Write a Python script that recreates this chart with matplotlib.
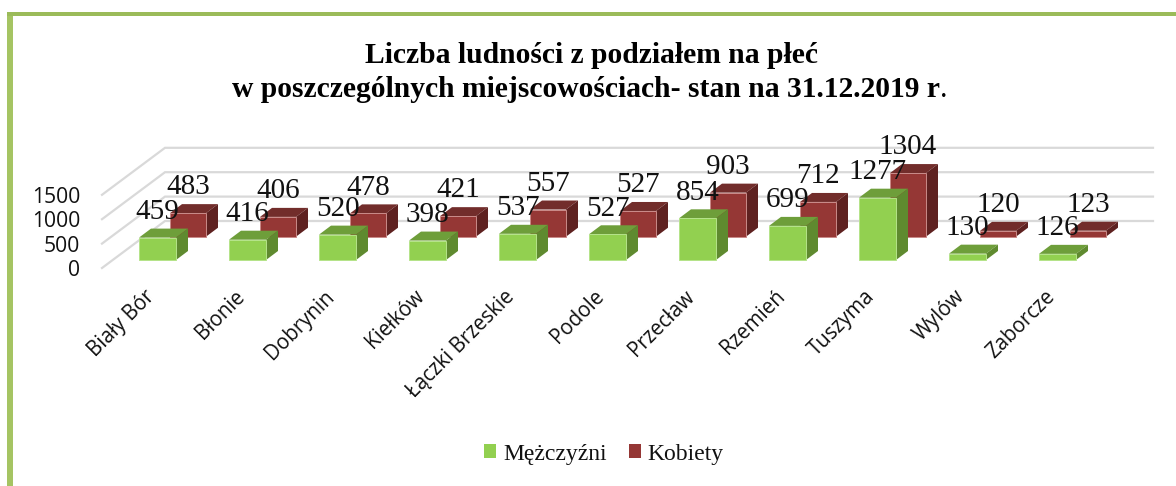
import matplotlib
matplotlib.use("Agg")
import matplotlib.pyplot as plt
from matplotlib.patches import Patch, Rectangle
from matplotlib.transforms import ScaledTranslation

categories = ["Biały Bór", "Błonie", "Dobrynin", "Kiełków", "Łączki Brzeskie", "Podole",
              "Przecław", "Rzemień", "Tuszyma", "Wylów", "Zaborcze"]
men = [459, 416, 520, 398, 537, 527, 854, 699, 1277, 130, 126]
women = [483, 406, 478, 421, 557, 527, 903, 712, 1304, 120, 123]
value_ticks = [0, 500, 1000, 1500]
title_line1 = "Liczba ludności z podziałem na płeć"
title_line2 = "w poszczególnych miejscowościach- stan na 31.12.2019 r"

W, H = 1176, 486
fig = plt.figure(figsize=(W / 100, H / 100), dpi=100, facecolor="white")

# axes rectangle: the front plane of the 3-D floor, in figure pixels
AX_L, AX_R, AX_TOP, AX_BOT = 102, 1090, 194.8, 268
ax = fig.add_axes([AX_L / W, 1 - AX_BOT / H, (AX_R - AX_L) / W, (AX_BOT - AX_TOP) / H])
ax.patch.set_visible(False)
PX_X = 90.0
X0 = -0.5
ax.set_xlim(X0, X0 + (AX_R - AX_L) / PX_X)
ax.set_ylim(0, 1500)
PX_Y = (AX_BOT - AX_TOP) / 1500
dx = lambda p: p / PX_X
dy = lambda p: p / PX_Y

for s in ax.spines.values():
    s.set_visible(False)

# gridlines: front edge, then back wall
xl, xr = ax.get_xlim()
for v in value_ticks:
    ax.plot([xl, xl + dx(63), xr + dx(63)], [v, v + dy(47), v + dy(47)],
            color="#D9D9D9", lw=1.6, clip_on=False, zorder=1, solid_joinstyle="miter")


def box(center, base, value, width, cf, ct, cs, edge, z):
    depth_x, depth_y = dx(12), dy(9)
    l, r = center - width / 2, center + width / 2
    top = base + value
    ax.fill([l, l + depth_x, r + depth_x, r], [top, top + depth_y, top + depth_y, top],
            color=ct, lw=0, clip_on=False, zorder=z)
    ax.fill([r, r + depth_x, r + depth_x, r], [base, base + depth_y, top + depth_y, top],
            color=cs, lw=0, clip_on=False, zorder=z)
    ax.bar(center, value, width=width, bottom=base, color=cf, edgecolor=edge, lw=0.7,
           clip_on=False, zorder=z + 0.1)


for i, w in enumerate(women):
    box(i + dx(41), dy(31.3), w, dx(36), "#953735", "#722D2B", "#5E2120", "#C98A88", 3)
for i, m in enumerate(men):
    box(i + dx(10.5), dy(8), m, dx(37), "#92D050", "#6E9E3A", "#5F8A2F", "#B5E38A", 4)

for i, (m, w) in enumerate(zip(men, women)):
    ax.annotate(str(w), (i + dx(41), dy(31.3) + w), xytext=(0, 13.5), textcoords="offset points",
                ha="center", va="baseline", family="Liberation Serif", fontsize=21,
                color="#111111", zorder=6, annotation_clip=False)
    ax.annotate(str(m), (i + dx(10.5), dy(8) + m), xytext=(0, 13.5), textcoords="offset points",
                ha="center", va="baseline", family="Liberation Serif", fontsize=21,
                color="#111111", zorder=6, annotation_clip=False)

ax.set_yticks(value_ticks)
ax.set_yticklabels([str(v) for v in value_ticks], family="Open Sans", fontsize=15.2, color="#111111")
ax.set_xticks(range(len(categories)))
ax.set_xticklabels(categories, rotation=45, ha="right", rotation_mode="anchor",
                   family="Open Sans", fontsize=14.8, color="#111111")
ax.tick_params(axis="both", length=0)
ax.tick_params(axis="y", pad=15.5)
ax.tick_params(axis="x", pad=13)
shift = ScaledTranslation(-3 / 100, 0, fig.dpi_scale_trans)
for lab in ax.get_xticklabels():
    lab.set_transform(lab.get_transform() + shift)

# title
fig.text(591.5 / W, 1 - 63 / H, title_line1, ha="center", va="baseline", family="Liberation Serif",
         weight="bold", fontsize=21.3, color="black")
fig.text(585.5 / W, 1 - 97 / H, title_line2, ha="center", va="baseline", family="Liberation Serif",
         weight="bold", fontsize=21.3, color="black")
fig.text(940 / W, 1 - 97 / H, ".", ha="left", va="baseline", family="Liberation Serif", fontsize=21.3)

# legend
handles = [Patch(facecolor="#92D050", label="Mężczyźni"), Patch(facecolor="#953735", label="Kobiety")]
fig.legend(handles=handles, loc="center", bbox_to_anchor=(604 / W, 1 - 454 / H), ncol=2, frameon=False,
           prop={"family": "Liberation Serif", "size": 17}, handlelength=0.52, handleheight=0.52,
           handletextpad=0.28, columnspacing=0.95, labelcolor="#111111")

# frame of the source picture
BORDER = "#9BBB59"
fig.add_artist(Rectangle((7 / W, 0), 5.5 / W, 1 - 12 / H, transform=fig.transFigure, color="#A5C463", lw=0))
fig.add_artist(Rectangle((7 / W, 1 - 16 / H), 1 - 7 / W, 4 / H, transform=fig.transFigure, color=BORDER, lw=0))

fig.savefig("out.png", dpi=100)
